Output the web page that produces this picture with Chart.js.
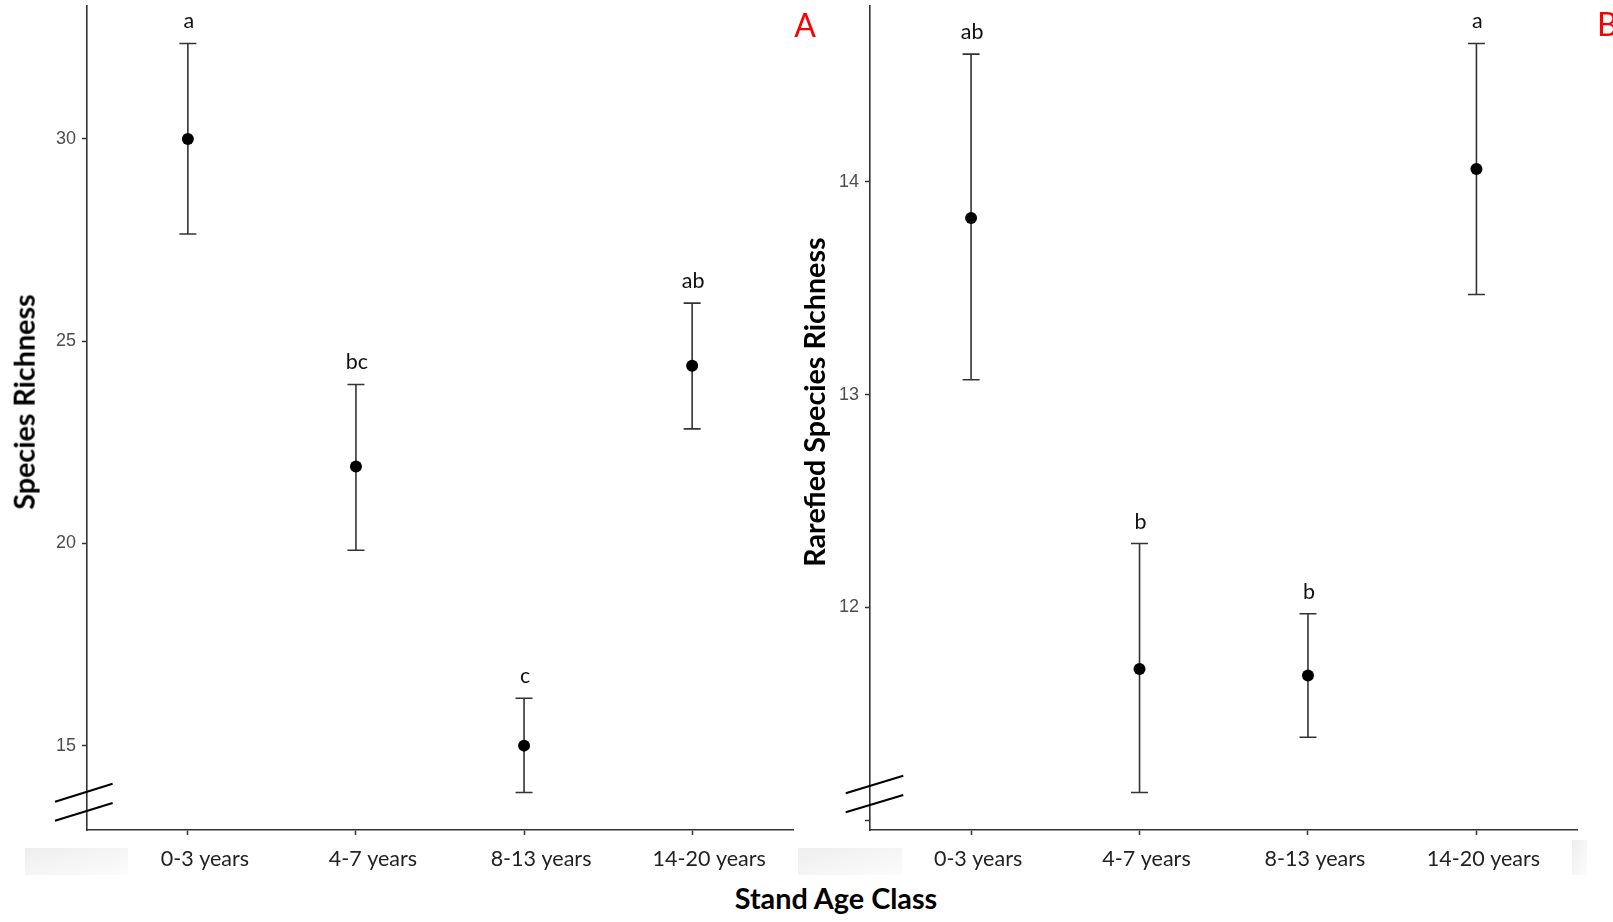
<!DOCTYPE html>
<html><head><meta charset="utf-8">
<script src="https://cdn.jsdelivr.net/npm/chart.js"></script>
<style>
html,body{margin:0;padding:0;background:#fff;}
#wrap{position:relative;width:1613px;height:922px;overflow:hidden;background:#fff;}
canvas{position:absolute;top:0;}
.t{position:absolute;font-family:Lato,"Open Sans",sans-serif;font-weight:bold;color:#000;white-space:nowrap;line-height:1;}
.rot{transform:translate(-50%,-50%) rotate(-90deg);}
.ctr{transform:translate(-50%,-50%);}
.fade{position:absolute;background:linear-gradient(to bottom right,#eeeeee,#fcfcfc);}
.panel{position:absolute;font-family:Lato,sans-serif;color:#ff0000;font-size:32px;line-height:1;}
</style></head><body>
<div id="wrap">
<div class="fade" style="left:25px;top:848px;width:103px;height:27px"></div>
<div class="fade" style="left:798px;top:848px;width:104px;height:27px"></div>
<div class="fade" style="left:1572px;top:840px;width:15px;height:35px"></div>
<canvas id="cA" width="800" height="880" style="left:0px"></canvas>
<canvas id="cB" width="813" height="880" style="left:800px"></canvas>
<div class="t rot" style="left:24px;top:402px;font-size:28.7px">Species Richness</div>
<div class="t rot" style="left:814px;top:402px;font-size:28.7px">Rarefied Species Richness</div>
<div class="t ctr" style="left:836px;top:898px;font-size:28.8px">Stand Age Class</div>
<div class="panel ctr" style="left:805px;top:25px">A</div>
<div class="panel" style="left:1597px;top:8px">B</div>
</div>
<script>
// ---- data ----
const categories = ['0-3 years', '4-7 years', '8-13 years', '14-20 years'];
const richMean = [30.0, 21.9, 15.0, 24.39];
const richLow  = [27.65, 19.83, 13.84, 22.83];
const richHigh = [32.36, 23.93, 16.17, 25.94];
const richLetters = ['a', 'bc', 'c', 'ab'];
const rareMean = [13.83, 11.71, 11.68, 14.06];
const rareLow  = [13.07, 11.13, 11.39, 13.47];
const rareHigh = [14.60, 12.30, 11.97, 14.65];
const rareLetters = ['ab', 'b', 'b', 'a'];
const richTicks = [15, 20, 25, 30];
const richTickLabels = ['15', '20', '25', '30'];
const rareTicks = [11, 12, 13, 14];
const rareTickLabels = ['', '12', '13', '14'];

function makeChart(id, means, lows, highs, letters, yTicks, yTickLabels, cfg) {
  const lo = Math.min(...lows), hi = Math.max(...highs), pad = (hi - lo) * 0.05;
  const errPlugin = {
    id: 'err_' + id,
    beforeDatasetsDraw(chart) {
      const {ctx, scales: {x, y}} = chart;
      ctx.save();
      ctx.strokeStyle = '#333';
      ctx.lineWidth = 1.6;
      lows.forEach((l, i) => {
        const px = x.getPixelForValue(i + 1);
        const pl = y.getPixelForValue(l), ph = y.getPixelForValue(highs[i]);
        ctx.beginPath();
        ctx.moveTo(px, pl); ctx.lineTo(px, ph);
        ctx.moveTo(px - 8.5, pl); ctx.lineTo(px + 8.5, pl);
        ctx.moveTo(px - 8.5, ph); ctx.lineTo(px + 8.5, ph);
        ctx.stroke();
      });
      ctx.restore();
    },
    afterDatasetsDraw(chart) {
      const {ctx, scales: {x, y}} = chart;
      ctx.save();
      ctx.font = '21.5px Lato, "Open Sans", sans-serif';
      ctx.fillStyle = '#111';
      ctx.textAlign = 'center';
      ctx.textBaseline = 'alphabetic';
      letters.forEach((t, i) => {
        ctx.fillText(t, x.getPixelForValue(i + 1) + 1, y.getPixelForValue(highs[i]) - 15);
      });
      ctx.restore();
    },
    afterDraw(chart) {
      const {ctx, chartArea: a} = chart;
      ctx.save();
      ctx.strokeStyle = '#000';
      ctx.lineWidth = 2;
      cfg.brk.forEach(s => {
        ctx.beginPath();
        ctx.moveTo(a.left + s[0], a.bottom + s[1]);
        ctx.lineTo(a.left + s[2], a.bottom + s[3]);
        ctx.stroke();
      });
      ctx.restore();
    }
  };
  const grid = {display: true, drawOnChartArea: false, drawTicks: true, tickLength: 5, tickColor: '#333', tickWidth: 1.5};
  const border = {display: true, color: '#333', width: 1.6};
  return new Chart(document.getElementById(id), {
    type: 'scatter',
    data: {datasets: [{
      data: means.map((m, i) => ({x: i + 1, y: m})),
      pointRadius: 6, pointHoverRadius: 6,
      backgroundColor: '#000', borderColor: '#000', borderWidth: 0
    }]},
    options: {
      responsive: false, animation: false, devicePixelRatio: 1,
      events: [],
      layout: {padding: {top: 6, right: cfg.padRight, left: 0, bottom: 0}},
      plugins: {legend: {display: false}, tooltip: {enabled: false}},
      scales: {
        x: {
          type: 'linear', min: 0.4, max: 4.6,
          afterBuildTicks: s => { s.ticks = categories.map((c, i) => ({value: i + 1})); },
          afterFit: s => { s.height = 50; s.paddingLeft = 0; s.paddingRight = 0; },
          ticks: {
            callback: (v, i) => categories[i],
            autoSkip: false, maxRotation: 0, padding: 11,
            labelOffset: cfg.labelOffset,
            font: {family: 'Lato, "Open Sans", sans-serif', size: 21.5},
            color: '#222'
          },
          grid: grid, border: border
        },
        y: {
          type: 'linear', min: lo - pad, max: hi + pad,
          afterBuildTicks: s => { s.ticks = yTicks.map(v => ({value: v})); },
          afterFit: s => { s.width = cfg.yW; s.paddingTop = 0; s.paddingBottom = 0; },
          ticks: {
            callback: (v, i) => yTickLabels[i],
            padding: 6,
            font: {family: '"Liberation Sans", Arial, sans-serif', size: 18},
            color: '#4d4d4d'
          },
          grid: grid, border: border
        }
      }
    },
    plugins: [errPlugin]
  });
}

makeChart('cA', richMean, richLow, richHigh, richLetters, richTicks, richTickLabels,
  {padRight: 7, yW: 87, labelOffset: 17, brk: [[-32, -28.3, 25.6, -46.3], [-32, -9.3, 25.6, -27]]});
makeChart('cB', rareMean, rareLow, rareHigh, rareLetters, rareTicks, rareTickLabels,
  {padRight: 35.5, yW: 70, labelOffset: 7, brk: [[-24.3, -36.7, 33.3, -54.3], [-24.3, -17.7, 33.3, -35]]});
</script>
</body></html>
